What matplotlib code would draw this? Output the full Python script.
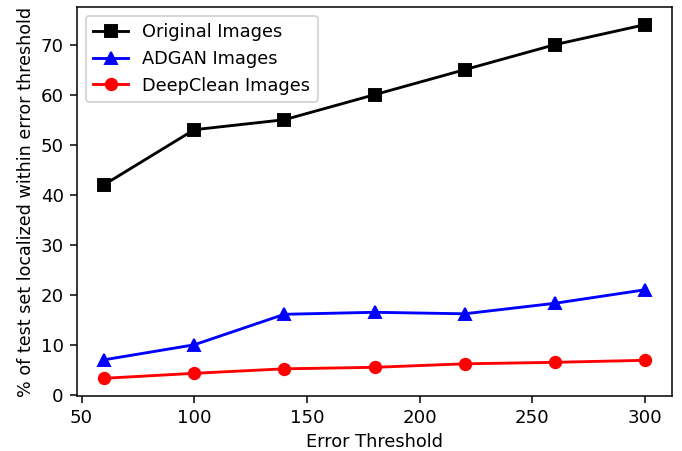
import matplotlib
matplotlib.use("Agg")
import matplotlib.pyplot as plt

thresholds = [60, 100, 140, 180, 220, 260, 300]
original = [42, 53, 55, 60, 65, 70, 74]
adgan = [7.0, 10.0, 16.1, 16.5, 16.2, 18.3, 21.0]
deepclean = [3.3, 4.3, 5.2, 5.5, 6.2, 6.5, 6.9]

DPI = 137
plt.rcParams["font.size"] = 9.3
fig = plt.figure(figsize=(682 / DPI, 451 / DPI), dpi=DPI)
ax = fig.add_axes([77 / 682, 1 - 396 / 451, (672 - 77) / 682, (396 - 7) / 451])

ax.plot(thresholds, original, color="black", marker="s", label="Original Images")
ax.plot(thresholds, adgan, color="blue", marker="^", label="ADGAN Images")
ax.plot(thresholds, deepclean, color="red", marker="o", label="DeepClean Images")

ax.tick_params(labelsize=9.5)
ax.set_xlabel("Error Threshold", fontsize=9.3, labelpad=3)
ax.set_ylabel("% of test set localized within error threshold", fontsize=9.2, labelpad=3)
ax.legend(loc="upper left", fontsize=9.3)

fig.savefig("out.png", dpi=DPI)
